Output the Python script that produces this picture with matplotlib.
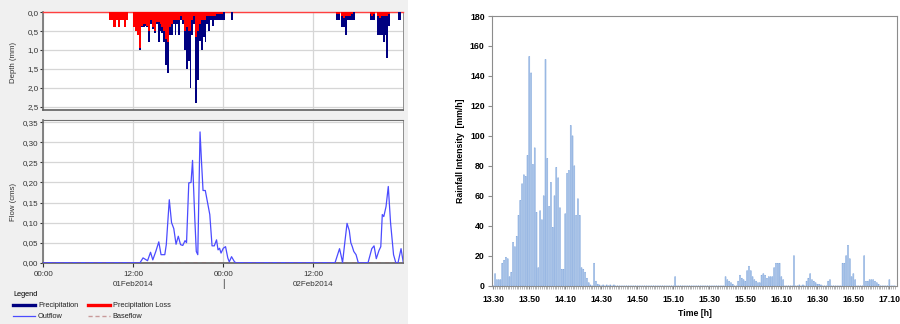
import numpy as np
import matplotlib.pyplot as plt
from matplotlib.patches import Rectangle
from matplotlib.lines import Line2D

plt.rcParams['font.family'] = ['Liberation Sans', 'DejaVu Sans']

# ---------- left: HEC-HMS run (hours after 01Feb2014 00:00, 15 min bins) ----------
step = 0.25
ev1_start = 8.75
ev1_precip = [0.2, 0.2, 0.4, 0.4, 0.2, 0.4, 0.2, 0.2, 0.4, 0.2, 0, 0, 0,
              0.4, 0.5, 0.6, 1.0, 0.4, 0.4, 0.35, 0.4, 0.8, 0.3, 0.45, 0.55,
              0.3, 0.8, 0.5, 0.55, 0.8, 1.4, 1.6, 0.6, 0.6, 0.3, 0.6, 0.3,
              0.6, 0.2, 0.3, 1.0, 1.5, 1.3, 2.0, 0.6, 0.3, 2.4, 1.8, 0.75,
              1.0, 0.65, 0.8, 0.3, 0.5, 0.2, 0.35, 0.2, 0.2, 0.2, 0.2, 0.2,
              0.2, 0, 0, 0, 0.2]
ev1_loss = [0.2, 0.2, 0.4, 0.4, 0.2, 0.4, 0.2, 0.2, 0.4, 0.2, 0, 0, 0,
            0.4, 0.5, 0.6, 0.95, 0.35, 0.3, 0.3, 0.35, 0.5, 0.2, 0.4, 0.5,
            0.25, 0.25, 0.3, 0.4, 0.5, 0.7, 0.8, 0.4, 0.3, 0.2, 0.2, 0.2,
            0.2, 0.1, 0.2, 0.5, 0.4, 0.5, 0.5, 0.2, 0.1, 0.65, 0.5, 0.3,
            0.2, 0.2, 0.2, 0.1, 0.1, 0.1, 0.1, 0.1, 0.05, 0.05, 0.05, 0.05,
            0, 0, 0, 0, 0]
ev2_start = 39.0
ev2_precip = [0.2, 0.2, 0, 0.4, 0.4, 0.6, 0.2, 0.2, 0.2, 0.2,
              0, 0, 0, 0, 0, 0, 0, 0,
              0.2, 0.2, 0.2, 0, 0.6, 0.6, 0.6, 0.8, 0.6, 1.2, 0.35,
              0, 0, 0, 0, 0.2, 0.2]
ev2_loss = [0.05, 0.05, 0, 0.1, 0.15, 0.1, 0.1, 0.1, 0.05, 0,
            0, 0, 0, 0, 0, 0, 0, 0,
            0.05, 0.1, 0.05, 0, 0.1, 0.15, 0.1, 0.1, 0.1, 0.1, 0.05,
            0, 0, 0, 0, 0, 0]

flow_hours = [0, 12.9, 13.3, 13.9, 14.3, 14.6, 15.0, 15.4, 15.7, 16.2, 16.4,
              16.8, 17.1, 17.4, 17.7, 18.0, 18.3, 18.6, 18.9, 19.1, 19.4,
              19.7, 19.9, 20.2, 20.4, 20.6, 20.9, 21.1, 21.3, 21.6, 21.8,
              22.0, 22.2, 22.5, 22.8, 23.1, 23.3, 23.5, 23.7, 24.0, 24.3,
              24.6, 24.8, 25.1, 25.5, 25.7, 38.9, 39.5, 39.8, 39.9, 40.2,
              40.5, 40.8, 41.0, 41.2, 41.4, 41.7, 42.0, 43.3, 43.8, 44.1,
              44.4, 44.75, 45.0, 45.2, 45.4, 45.7, 46.0, 46.3, 46.7, 47.0,
              47.3, 47.7, 48.0]
flow_cms = [0, 0, 0.012, 0.005, 0.026, 0.007, 0.028, 0.052, 0.02, 0.02, 0.045,
            0.157, 0.1, 0.085, 0.046, 0.066, 0.045, 0.043, 0.055, 0.05, 0.199,
            0.2, 0.255, 0.11, 0.028, 0.02, 0.326, 0.25, 0.18, 0.18, 0.16,
            0.14, 0.12, 0.042, 0.042, 0.057, 0.032, 0.036, 0.024, 0.036, 0.04,
            0.012, 0.002, 0.015, 0.002, 0, 0, 0.035, 0.01, 0, 0.05,
            0.098, 0.08, 0.05, 0.04, 0.028, 0.02, 0, 0, 0.035, 0.042,
            0.01, 0.03, 0.04, 0.12, 0.115, 0.14, 0.19, 0.1, 0.02, 0,
            0, 0.035, 0]
base_hours = [0, 48]
base_cms = [0, 0]

depth_ticks = [0, 0.5, 1.0, 1.5, 2.0, 2.5]
depth_labels = ['0,0', '0,5', '1,0', '1,5', '2,0', '2,5']
flow_ticks = [0, 0.05, 0.10, 0.15, 0.20, 0.25, 0.30, 0.35]
flow_labels = ['0,00', '0,05', '0,10', '0,15', '0,20', '0,25', '0,30', '0,35']
time_ticks = [0, 12, 24, 36]
time_labels = ['00:00', '12:00', '00:00', '12:00']
day_pos = [12, 36]
day_labels = ['01Feb2014', '02Feb2014']

# ---------- right: 1-min rainfall intensity, 13:30 onwards ----------
rain_mmh = [
    0, 8, 4, 4, 4, 15, 17, 19, 18, 6, 9, 29, 26, 33, 47, 57, 68, 74, 73, 87,
    153, 142, 81, 92, 49, 12, 50, 44, 60, 151, 85, 53, 69, 39, 60, 79, 72, 52, 11, 11,
    48, 75, 77, 107, 100, 80, 47, 58, 47, 12, 11, 9, 5, 2, 0.5, 0, 15, 3, 1, 0.5,
    0, 0.5, 0, 0.5, 0, 0.5, 0, 0.5, 0, 0, 0, 0, 0, 0, 0, 0, 0, 0, 0, 0,
    0, 0, 0, 0, 0, 0, 0, 0, 0, 0, 0, 0, 0, 0, 0, 0, 0, 0, 0, 0,
    0, 6, 0, 0, 0, 0, 0, 0, 0, 0, 0, 0, 0, 0, 0, 0, 0, 0, 0, 0,
    0, 0, 0, 0, 0, 0, 0, 0, 0, 6, 4, 3, 2, 1, 0, 0, 3, 7, 5, 4,
    3, 10, 13, 10, 6, 4, 3, 2, 2, 7, 8, 7, 5, 6, 6, 6, 12, 15, 15, 15,
    6, 4, 0, 0, 0, 0, 0, 20, 0, 0, 0.5, 0, 0.5, 0, 3, 5, 8, 4, 3, 2,
    1, 1, 0.5, 0, 0, 0, 3, 4, 0, 0, 0, 0, 0, 0, 15, 15, 20, 27, 18, 6,
    8, 4, 0, 0, 0, 0, 20, 3, 3, 4, 4, 4, 3, 2, 1, 0, 0, 0, 0, 0,
    4, 0, 0, 0]
rain_tick_labels = ['13.30', '13.50', '14.10', '14.30', '14.50', '15.10',
                    '15.30', '15.50', '16.10', '16.30', '16.50', '17.10']

fig = plt.figure(figsize=(9, 3.24), dpi=100)
fig.patches.append(Rectangle((0, 0), 408 / 900, 1, transform=fig.transFigure,
                             facecolor='#f0f0f0', edgecolor='none', zorder=-10))

ax1 = fig.add_axes([0.0481, 0.6605, 0.4, 0.3015])
ax2 = fig.add_axes([0.0481, 0.1892, 0.4, 0.4414])

t1 = ev1_start + step * np.arange(len(ev1_precip))
t2 = ev2_start + step * np.arange(len(ev2_precip))
for t, p, l in [(t1, ev1_precip, ev1_loss), (t2, ev2_precip, ev2_loss)]:
    ax1.bar(t, p, width=step, align='edge', color='#000080', linewidth=0, zorder=3)
    ax1.bar(t, l, width=step, align='edge', color='#ff0000', linewidth=0, zorder=4)
ax1.set_ylim(2.59, 0)
ax1.set_yticks(depth_ticks)
ax1.set_yticklabels(depth_labels)
ax1.set_ylabel('Depth (mm)', fontsize=5.6, color='#333333')
ax1.yaxis.set_label_coords(-0.072, 0.49)

ax2.plot(flow_hours, flow_cms, color='#4b4bff', lw=0.9, zorder=3)
ax2.plot(base_hours, base_cms, color='#a05050', lw=1.0, ls=(0, (3, 3)), zorder=4)
ax2.set_ylim(0, 0.3565)
ax2.set_yticks(flow_ticks)
ax2.set_yticklabels(flow_labels)
ax2.set_ylabel('Flow (cms)', fontsize=5.6, color='#333333')
ax2.yaxis.set_label_coords(-0.072, 0.427)

for ax in (ax1, ax2):
    ax.set_xlim(0, 48)
    ax.set_xticks(time_ticks)
    ax.grid(True, color='#d6d6d6', lw=0.9, zorder=0)
    ax.tick_params(axis='y', direction='out', length=2, pad=1.5, labelsize=5.8,
                   colors='#333333')
    ax.spines['left'].set_color('#707070')
    ax.spines['left'].set_linewidth(1.2)
    ax.spines['bottom'].set_color('#606060')
    ax.spines['bottom'].set_linewidth(1.2)
    ax.spines['right'].set_color('#909090')
    ax.spines['right'].set_linewidth(0.7)
ax1.spines['top'].set_color('#ff4040')
ax1.spines['top'].set_linewidth(1.0)
ax2.spines['top'].set_color('#707070')
ax2.spines['top'].set_linewidth(0.8)
ax1.tick_params(axis='x', length=0, labelbottom=False)
ax2.set_xticklabels(time_labels)
ax2.tick_params(axis='x', direction='out', length=3, pad=3, labelsize=5.8,
                colors='#333333')
for x, lab in zip(day_pos, day_labels):
    ax2.annotate(lab, (x, 0), xycoords=('data', 'axes fraction'),
                 xytext=(0, -16), textcoords='offset points',
                 ha='center', va='center', fontsize=5.8, color='#333333')
ax2.annotate('|', (24, 0), xycoords=('data', 'axes fraction'),
             xytext=(0, -15.5), textcoords='offset points',
             ha='center', va='center', fontsize=7, color='#333333')

handles = [Line2D([], [], color='#000080', lw=2.4),
           Line2D([], [], color='#4b4bff', lw=0.9),
           Line2D([], [], color='#ff0000', lw=2.4),
           Line2D([], [], color='#c89a9a', lw=1.0, ls=(0, (3, 2)))]
labels = ['Precipitation', 'Outflow', 'Precipitation Loss', 'Baseflow']
leg = fig.legend(handles, labels, ncol=2, loc='upper left',
                 bbox_to_anchor=(0.0144, 0.102), frameon=False, fontsize=5.3,
                 title='Legend', title_fontsize=5.3, alignment='left',
                 handlelength=3.0, handletextpad=0.4, columnspacing=1.3,
                 labelspacing=0.55, borderpad=0, borderaxespad=0)
for txt in leg.get_texts():
    txt.set_color('#222222')

# ---------- right chart ----------
ax3 = fig.add_axes([0.547, 0.1182, 0.45, 0.8324])
minutes = np.arange(len(rain_mmh))
bars = ax3.bar(minutes, rain_mmh, width=0.55, facecolor='#c4d6ef',
               edgecolor='#6f9bd8', linewidth=0.35, zorder=3)
for b in bars:
    b.set_snap(False)
ax3.set_xlim(-0.55, 224.4)
ax3.set_ylim(0, 180)
ax3.set_yticks(np.arange(0, 181, 20))
ax3.set_xticks(np.arange(0, 221, 20))
ax3.set_xticklabels(rain_tick_labels)
ax3.set_xticks(minutes, minor=True)
for s in ax3.spines.values():
    s.set_color('#8c8c8c')
    s.set_linewidth(0.8)
ax3.tick_params(axis='y', direction='out', length=3, pad=2.5, labelsize=6.3,
                color='#8c8c8c')
ax3.tick_params(axis='x', which='major', direction='out', length=2.5, pad=4,
                labelsize=6.3, color='#8c8c8c')
ax3.tick_params(axis='x', which='minor', direction='out', length=2,
                width=0.5, color='#9a9a9a')
for lab in ax3.get_xticklabels() + ax3.get_yticklabels():
    lab.set_fontweight('bold')
ax3.set_ylabel('Rainfall Intensity  [mm/h]', fontsize=6.3, fontweight='bold')
ax3.yaxis.set_label_coords(-0.0674, 0.5)
ax3.set_xlabel('Time [h]', fontsize=6.3, fontweight='bold')
ax3.xaxis.set_label_coords(0.5005, -0.0864)

fig.savefig('out.png', dpi=100)
